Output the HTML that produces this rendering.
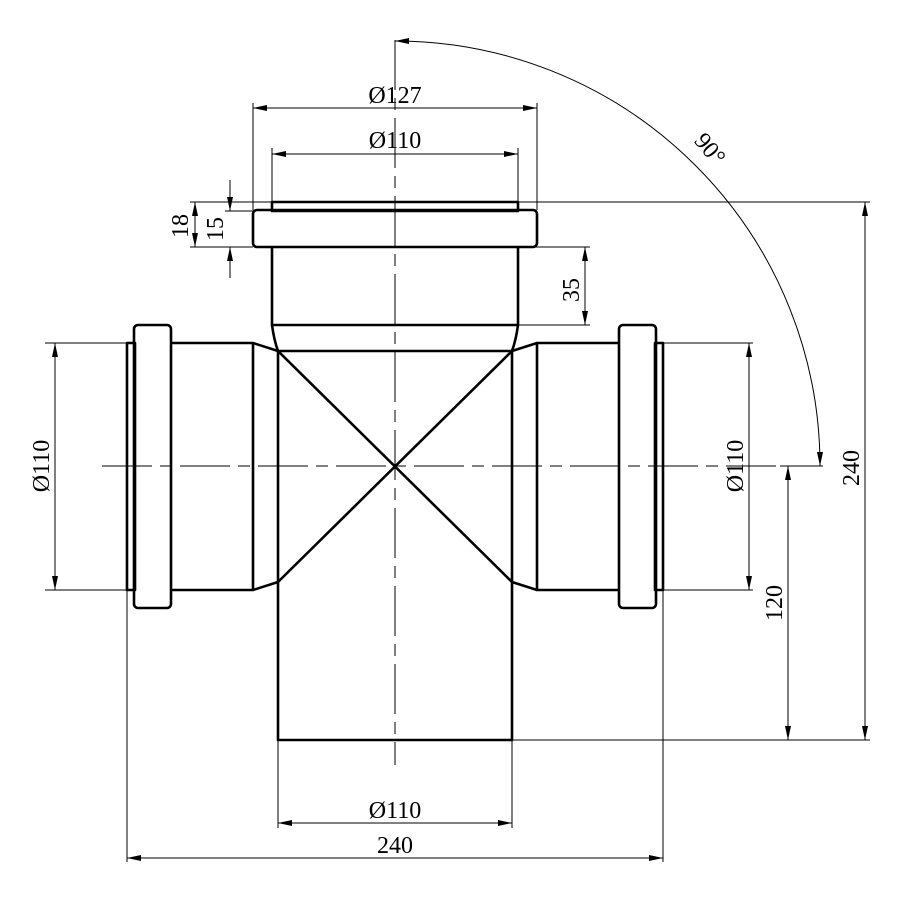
<!DOCTYPE html>
<html><head><meta charset="utf-8"><style>html,body{margin:0;padding:0;background:#fff}svg{display:block}</style></head>
<body>
<svg width="900" height="900" viewBox="0 0 900 900" xmlns="http://www.w3.org/2000/svg" font-family="'Liberation Serif', serif" font-size="24" fill="none" stroke="#000">
<defs>
<marker id="a" viewBox="0 0 14 6" refX="14" refY="3" markerWidth="14" markerHeight="6" markerUnits="userSpaceOnUse" orient="auto-start-reverse"><path d="M0,0 L14,3 L0,6 Z" fill="#000" stroke="none"/></marker>
</defs>
<g stroke-width="1" stroke-dasharray="50 8 12 8">
<line x1="395" y1="40" x2="395" y2="765"/>
<line x1="102" y1="466" x2="823" y2="466"/>
</g>
<g stroke-width="2.6" stroke-linejoin="round">
<rect x="272" y="202" width="246" height="9"/>
<rect x="253" y="210" width="284" height="37" rx="4"/>
<path d="M272,247 V325 H518 V247"/>
<path d="M272,325 Q274,340 278,351 M518,325 Q516,340 512,351"/>
<line x1="278" y1="351" x2="512" y2="351"/>
<path d="M278,351 V740 H512 V351"/>
<line x1="278" y1="351" x2="512" y2="582"/>
<line x1="512" y1="351" x2="278" y2="582"/>
<rect x="127" y="343" width="8" height="247"/>
<rect x="134" y="325" width="37" height="283" rx="4"/>
<path d="M171,343 H253 V590 H171"/>
<path d="M253,343 L278,351 M253,590 L278,582"/>
<rect x="655" y="343" width="8" height="247"/>
<rect x="619" y="325" width="37" height="283" rx="4"/>
<path d="M619,343 H537 V590 H619"/>
<path d="M537,343 L512,351 M537,590 L512,582"/>
</g>
<g stroke-width="1">
<line x1="253" y1="210" x2="253" y2="103"/>
<line x1="537" y1="210" x2="537" y2="103"/>
<line x1="272" y1="202" x2="272" y2="148"/>
<line x1="518" y1="202" x2="518" y2="148"/>
<line x1="518" y1="202" x2="870" y2="202"/>
<line x1="512" y1="740" x2="870" y2="740"/>
<line x1="190" y1="202" x2="272" y2="202"/>
<line x1="190" y1="247" x2="253" y2="247"/>
<line x1="225" y1="211" x2="253" y2="211"/>
<line x1="518" y1="247" x2="590" y2="247"/>
<line x1="518" y1="325" x2="590" y2="325"/>
<line x1="45" y1="343" x2="127" y2="343"/>
<line x1="45" y1="590" x2="127" y2="590"/>
<line x1="663" y1="343" x2="753" y2="343"/>
<line x1="663" y1="590" x2="753" y2="590"/>
<line x1="278" y1="740" x2="278" y2="828"/>
<line x1="512" y1="740" x2="512" y2="828"/>
<line x1="127" y1="590" x2="127" y2="862"/>
<line x1="663" y1="590" x2="663" y2="862"/>
<line x1="780" y1="466" x2="823" y2="466"/>
</g>
<g stroke-width="1" marker-start="url(#a)" marker-end="url(#a)">
<line x1="253" y1="108" x2="537" y2="108"/>
<line x1="272" y1="154" x2="518" y2="154"/>
<line x1="278" y1="823" x2="512" y2="823"/>
<line x1="127" y1="858" x2="663" y2="858"/>
<line x1="55" y1="343" x2="55" y2="590"/>
<line x1="749" y1="343" x2="749" y2="590"/>
<line x1="788" y1="466" x2="788" y2="740"/>
<line x1="865" y1="202" x2="865" y2="740"/>
<line x1="585" y1="247" x2="585" y2="325"/>
<line x1="195" y1="202" x2="195" y2="247"/>
</g>
<g stroke-width="1" marker-end="url(#a)">
<line x1="230" y1="180" x2="230" y2="211"/>
<line x1="230" y1="278" x2="230" y2="247"/>
<path d="M820,466 A425,425 0 0 0 395,41" marker-start="url(#a)"/>
</g>
<g fill="#000" stroke="none">
<text x="395" y="103" text-anchor="middle">Ø127</text>
<text x="395" y="148" text-anchor="middle">Ø110</text>
<text x="395" y="818" text-anchor="middle">Ø110</text>
<text x="395" y="853" text-anchor="middle">240</text>
<text transform="translate(49,466) rotate(-90)" text-anchor="middle">Ø110</text>
<text transform="translate(743,466) rotate(-90)" text-anchor="middle">Ø110</text>
<text transform="translate(782,603) rotate(-90)" text-anchor="middle">120</text>
<text transform="translate(859,468) rotate(-90)" text-anchor="middle">240</text>
<text transform="translate(579,290) rotate(-90)" text-anchor="middle">35</text>
<text transform="translate(188,226) rotate(-90)" text-anchor="middle">18</text>
<text transform="translate(223,229) rotate(-90)" text-anchor="middle">15</text>
<text transform="translate(704,154) rotate(50)" text-anchor="middle">90°</text>
</g>
</svg>
</body></html>
